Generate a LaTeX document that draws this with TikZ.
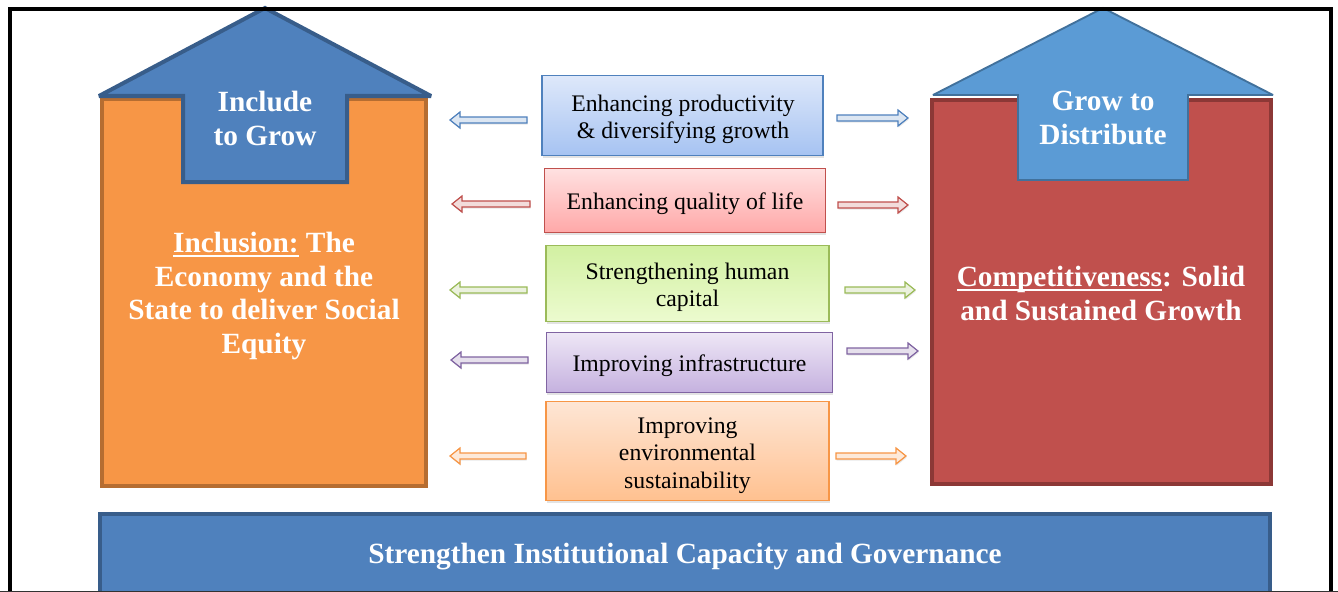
\documentclass[tikz,border=0pt]{standalone}
\usepackage{fontspec}
\setmainfont{Liberation Serif}
\usetikzlibrary{calc,shadows}

\definecolor{blueA}{HTML}{4F81BD}
\definecolor{blueAdk}{HTML}{385D8A}
\definecolor{blueB}{HTML}{5B9BD5}
\definecolor{blueBdk}{HTML}{41719C}
\definecolor{orangeA}{HTML}{F79646}
\definecolor{orangeAdk}{HTML}{B66D31}
\definecolor{redA}{HTML}{C0504D}
\definecolor{redAdk}{HTML}{8C3836}
\definecolor{greenA}{HTML}{9BBB59}
\definecolor{purpleA}{HTML}{8064A2}
\definecolor{b1top}{HTML}{DEE8FA}
\definecolor{b1bot}{HTML}{A6C3F2}
\definecolor{b2top}{HTML}{FFE1E1}
\definecolor{b2bot}{HTML}{FFA8A8}
\definecolor{b3top}{HTML}{D2F0A2}
\definecolor{b3bot}{HTML}{ECFBCF}
\definecolor{b4top}{HTML}{EEE7F6}
\definecolor{b4bot}{HTML}{C5B1DF}
\definecolor{b5top}{HTML}{FEE6D5}
\definecolor{b5bot}{HTML}{FFC190}
\definecolor{a1fill}{HTML}{DCE6F2}
\definecolor{a2fill}{HTML}{F2DCDB}
\definecolor{a3fill}{HTML}{EBF1DE}
\definecolor{a4fill}{HTML}{E6E0EC}
\definecolor{a5fill}{HTML}{FDE9D9}

\newsavebox\myulbox
\newcommand{\myul}[1]{\sbox\myulbox{#1}\rlap{\rule[-3.2pt]{\wd\myulbox}{1.5pt}}\usebox\myulbox}

% block arrows: style, from, to
\newcommand{\rarrow}[3]{%
  \draw[#1] ($(#2)+(0,-3)$) -- ($(#3)+(-10,-3)$) -- ($(#3)+(-10,-8)$) -- (#3)
    -- ($(#3)+(-10,8)$) -- ($(#3)+(-10,3)$) -- ($(#2)+(0,3)$) -- cycle;}
\newcommand{\larrow}[3]{%
  \draw[#1] ($(#2)+(0,-3)$) -- ($(#3)+(10,-3)$) -- ($(#3)+(10,-8)$) -- (#3)
    -- ($(#3)+(10,8)$) -- ($(#3)+(10,3)$) -- ($(#2)+(0,3)$) -- cycle;}

\begin{document}
\begin{tikzpicture}[x=0.75pt,y=-0.75pt,
  bigbox/.style={draw, line width=3pt, inner sep=0pt},
  bigtext/.style={align=center, text=white, font=\bfseries\fontsize{22}{25.3}\selectfont},
  uparrow/.style={line join=miter, miter limit=4},
  headtext/.style={text=white, align=center, font=\bfseries\fontsize{22}{25.5}\selectfont},
  midbox/.style={draw, line width=1.1pt, inner sep=0pt,
    drop shadow={opacity=0.22, shadow xshift=0.6pt, shadow yshift=-1.8pt}},
  midtext/.style={align=center, inner sep=0pt, font=\fontsize{17.8}{20.4}\selectfont},
  flat/.style={line width=0.9pt, line join=miter,
    drop shadow={opacity=0.18, shadow xshift=0.5pt, shadow yshift=-1.2pt}},
  basebar/.style={draw=blueAdk, fill=blueA, line width=3pt, inner sep=0pt},
  basetext/.style={text=white, font=\bfseries\fontsize{22}{25}\selectfont}
]
\clip (0,0) rectangle (1338,592);
\fill[white] (0,0) rectangle (1338,592);

% side boxes
\node[bigbox, draw=orangeAdk, fill=orangeA, minimum width=243pt, minimum height=290pt]
  (incl) at (264,292.5) {};
\node[bigtext] (inclt) at (264,296)
  {\myul{Inclusion:} The\\Economy and the\\State to deliver Social\\Equity};
\node[bigbox, draw=redAdk, fill=redA, minimum width=254pt, minimum height=288pt]
  (comp) at (1101.5,291.5) {};
\node[bigtext] (compt) at (1101,293.5)
  {\myul{Competitiveness}: Solid\\and Sustained Growth};

% up arrows
\draw[uparrow, draw=blueAdk, fill=blueA, line width=3pt]
  (99,96) -- (265,8) -- (431,96) -- (347,96) -- (347,182) -- (183,182) -- (183,96) -- cycle;
\node[headtext] (igrow) at (265,118) {Include\\to Grow};
\draw[uparrow, draw=blueBdk, fill=blueB, line width=1.4pt]
  (933,95) -- (1103,8) -- (1273,95) -- (1188,95) -- (1188,180) -- (1018,180) -- (1018,95) -- cycle;
\node[headtext] (gdist) at (1103,117.5) {Grow to\\Distribute};

% middle boxes
\node[midbox, draw=blueA, top color=b1top, bottom color=b1bot,
  minimum width=211pt, minimum height=60pt] (m1) at (682.5,115.5) {};
\node[midtext] (m1t) at (683,119) {Enhancing productivity\\\& diversifying growth};
\node[midbox, draw=redA, top color=b2top, bottom color=b2bot,
  minimum width=211pt, minimum height=48pt] (m2) at (685,200.5) {};
\node[midtext] (m2t) at (685,204) {Enhancing quality of life};
\node[midbox, draw=greenA, top color=b3top, bottom color=b3bot,
  minimum width=212pt, minimum height=57pt] (m3) at (687.5,283.5) {};
\node[midtext] (m3t) at (687.5,287) {Strengthening human\\capital};
\node[midbox, draw=purpleA, top color=b4top, bottom color=b4bot,
  minimum width=214.5pt, minimum height=45pt] (m4) at (689.5,362.5) {};
\node[midtext] (m4t) at (689.5,365.5) {Improving infrastructure};
\node[midbox, draw=orangeA, top color=b5top, bottom color=b5bot,
  minimum width=212pt, minimum height=74pt] (m5) at (687.5,451) {};
\node[midtext] (m5t) at (687.5,455.5) {Improving\\environmental\\sustainability};

% arrow end points
\coordinate (l1s) at (527,120); \coordinate (l1e) at (450,120);
\coordinate (r1s) at (837,118); \coordinate (r1e) at (908,118);
\coordinate (l2s) at (530,204); \coordinate (l2e) at (452,204);
\coordinate (r2s) at (838,205); \coordinate (r2e) at (908,205);
\coordinate (l3s) at (527,290); \coordinate (l3e) at (450,290);
\coordinate (r3s) at (845,290); \coordinate (r3e) at (915,290);
\coordinate (l4s) at (528,360); \coordinate (l4e) at (451,360);
\coordinate (r4s) at (847,351); \coordinate (r4e) at (918,351);
\coordinate (l5s) at (526,456); \coordinate (l5e) at (450,456);
\coordinate (r5s) at (836,456); \coordinate (r5e) at (906,456);

\larrow{flat, draw=blueA, fill=a1fill}{l1s}{l1e}
\rarrow{flat, draw=blueA, fill=a1fill}{r1s}{r1e}
\larrow{flat, draw=redA, fill=a2fill}{l2s}{l2e}
\rarrow{flat, draw=redA, fill=a2fill}{r2s}{r2e}
\larrow{flat, draw=greenA, fill=a3fill}{l3s}{l3e}
\rarrow{flat, draw=greenA, fill=a3fill}{r3s}{r3e}
\larrow{flat, draw=purpleA, fill=a4fill}{l4s}{l4e}
\rarrow{flat, draw=purpleA, fill=a4fill}{r4s}{r4e}
\larrow{flat, draw=orangeA, fill=a5fill}{l5s}{l5e}
\rarrow{flat, draw=orangeA, fill=a5fill}{r5s}{r5e}

% base bar
\node[basebar, minimum width=877pt, minimum height=60pt] (base) at (685,554) {};
\node[basetext] (baset) at (685,557) {Strengthen Institutional Capacity and Governance};

% frame
\draw[line width=3.6pt] (10,600) -- (10,9) -- (1331,9) -- (1331,600);
\draw[line width=1pt, black!80] (0,591.5) -- (1338,591.5);
\end{tikzpicture}
\end{document}
